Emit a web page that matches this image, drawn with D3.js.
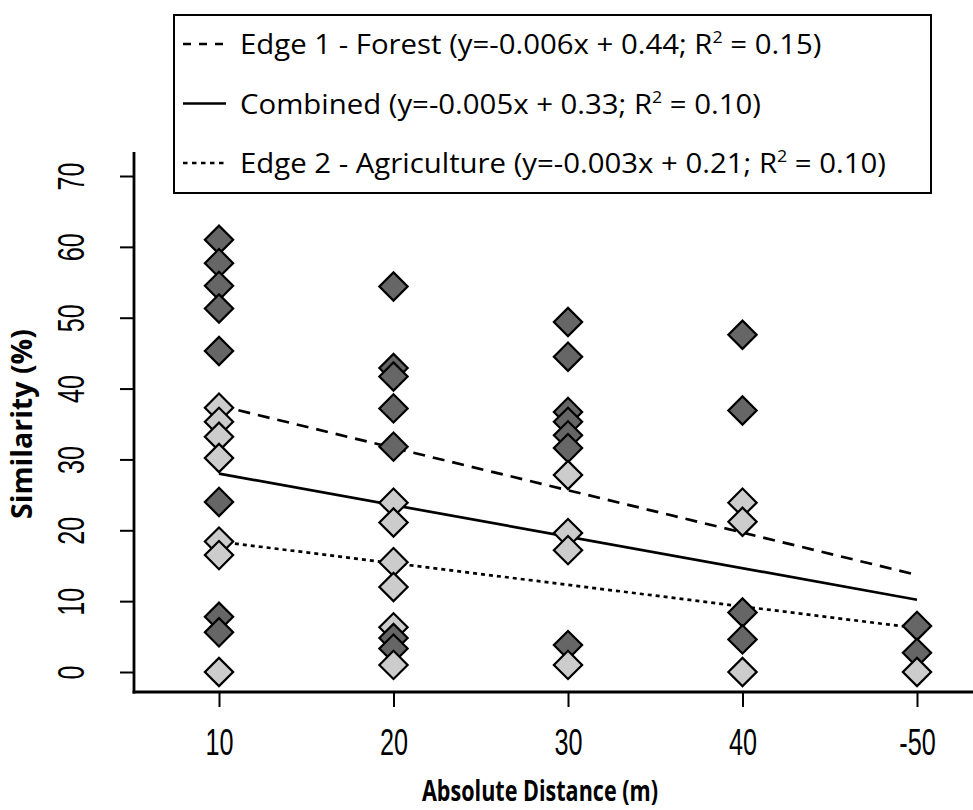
<!DOCTYPE html>
<html lang="en">
	<head>
		<meta charset="utf-8">
		<title>Similarity by distance</title>
		<style type="text/css">
		body {
			background-color: white;
			margin: 0px;
			padding: 0px;
		}
		svg {
			display: block;
		}
		.tickLabel {
			font-family: 'Liberation Sans', Arial, sans-serif;
			font-size: 36px;
			fill: black;
		}
		.axisTitle {
			font-family: 'Open Sans', sans-serif;
			font-weight: 700;
			font-size: 28px;
			fill: black;
		}
		.legendText {
			font-family: 'Open Sans', sans-serif;
			font-size: 28px;
			fill: black;
		}
		</style>
	</head>
	<body>
		<div id="chart"></div>

		<script src="https://d3js.org/d3.v7.min.js"></script>
		<script type="text/javascript">

			// distances on the x axis (last one is labelled -50 in the figure)
			const distances = [10, 20, 30, 40, 50];
			const distanceLabels = ["10", "20", "30", "40", "-50"];
			const similarityTicks = [0, 10, 20, 30, 40, 50, 60, 70];

			// Edge 1 - Forest (dark diamonds), one list per distance
			const forestValues = [
				[61.0, 57.7, 54.5, 51.3, 45.3, 24.0, 7.8, 5.6],
				[54.4, 42.9, 41.7, 37.2, 31.8, 4.8, 3.3],
				[49.4, 44.5, 36.7, 35.3, 33.4, 31.6, 3.8],
				[47.6, 36.9, 8.4, 4.6],
				[6.5, 2.7]
			];

			// Edge 2 - Agriculture (light diamonds)
			const agricultureValues = [
				[37.3, 35.3, 33.2, 30.2, 18.4, 16.5, 0],
				[23.9, 21.1, 15.5, 12.0, 6.3, 1.0],
				[27.8, 19.6, 17.2, 1.0],
				[23.9, 21.2, 0],
				[0]
			];

			// fitted lines, value at first and last distance
			const fitDistances = [10, 50];
			const forestFit = [37.6, 13.7];
			const combinedFit = [28.0, 10.2];
			const agricultureFit = [18.4, 6.2];

			const legendLabels = [
				["Edge 1 - Forest (y=-0.006x + 0.44; R", "2", " = 0.15)"],
				["Combined (y=-0.005x + 0.33; R", "2", " = 0.10)"],
				["Edge 2 - Agriculture (y=-0.003x + 0.21; R", "2", " = 0.10)"]
			];

			const width = 973,
				height = 810,
				axisLeftX = 134,
				axisBottomY = 692,
				plotTop = 152;

			const darkFill = "#666666",
				lightFill = "#cccccc";

			const svg = d3.select("#chart")
				.append("svg")
				.attr("width", width)
				.attr("height", height);

			const xScale = d3.scaleLinear()
				.domain([10, 50])
				.range([219, 917]);

			const yScale = d3.scaleLinear()
				.domain([0, 70])
				.range([672, 176]);

			// axes
			const xAxis = d3.axisBottom(xScale)
				.tickValues(distances)
				.tickSizeInner(15)
				.tickSizeOuter(0)
				.tickFormat(function(d, i){
					return distanceLabels[i];
				});

			const yAxis = d3.axisLeft(yScale)
				.tickValues(similarityTicks)
				.tickSizeInner(14)
				.tickSizeOuter(0);

			const gX = svg.append("g")
				.attr("transform", "translate(0," + axisBottomY + ")")
				.call(xAxis);

			const gY = svg.append("g")
				.attr("transform", "translate(" + axisLeftX + ",0)")
				.call(yAxis);

			gX.select(".domain").remove();
			gY.select(".domain").remove();

			gX.selectAll(".tick line")
				.attr("stroke", "black")
				.attr("stroke-width", 2);

			gY.selectAll(".tick line")
				.attr("stroke", "black")
				.attr("stroke-width", 2);

			gX.selectAll(".tick text")
				.attr("class", "tickLabel")
				.attr("y", 63)
				.attr("dy", null)
				.attr("font-size", null)
				.attr("font-family", null);

			gY.selectAll(".tick text")
				.attr("class", "tickLabel")
				.attr("x", null)
				.attr("dy", null)
				.attr("text-anchor", "middle")
				.attr("font-size", null)
				.attr("font-family", null)
				.attr("transform", "translate(-50,0) rotate(-90)");

			// narrow the tick labels like the original font
			svg.selectAll(".tickLabel").each(function(){
				const len = this.getComputedTextLength();
				d3.select(this)
					.attr("textLength", len * 0.7)
					.attr("lengthAdjust", "spacingAndGlyphs");
			});

			svg.append("line")
				.attr("x1", axisLeftX)
				.attr("x2", axisLeftX)
				.attr("y1", plotTop)
				.attr("y2", axisBottomY + 1.4)
				.attr("stroke", "black")
				.attr("stroke-width", 2.8);

			svg.append("line")
				.attr("x1", axisLeftX - 1.4)
				.attr("x2", width)
				.attr("y1", axisBottomY)
				.attr("y2", axisBottomY)
				.attr("stroke", "black")
				.attr("stroke-width", 2.8);

			// axis titles
			const xTitle = svg.append("text")
				.attr("class", "axisTitle")
				.attr("x", 540)
				.attr("y", 801)
				.attr("text-anchor", "middle")
				.text("Absolute Distance (m)");

			const yTitle = svg.append("text")
				.attr("class", "axisTitle")
				.attr("text-anchor", "middle")
				.attr("transform", "translate(32,424) rotate(-90)")
				.text("Similarity (%)");

			xTitle.attr("textLength", 236).attr("lengthAdjust", "spacingAndGlyphs");
			yTitle.attr("textLength", 190).attr("lengthAdjust", "spacingAndGlyphs");

			// regression lines
			const fitStyles = [
				{values: forestFit, dash: "12,8"},
				{values: combinedFit, dash: null},
				{values: agricultureFit, dash: "4,4"}
			];

			const line = d3.line()
				.x(function(d){ return xScale(d[0]); })
				.y(function(d){ return yScale(d[1]); });

			svg.selectAll(null)
				.data(fitStyles)
				.enter()
				.append("path")
				.attr("d", function(d){
					return line(fitDistances.map(function(x, i){ return [x, d.values[i]]; }));
				})
				.style("fill", "none")
				.style("stroke", "black")
				.style("stroke-width", 2.7)
				.style("stroke-dasharray", function(d){ return d.dash; });

			// points, drawn from high to low so lower ones sit on top
			const points = [];
			distances.forEach(function(dist, i){
				forestValues[i].forEach(function(v){
					points.push({x: dist, y: v, fill: darkFill});
				});
				agricultureValues[i].forEach(function(v){
					points.push({x: dist, y: v, fill: lightFill});
				});
			});
			points.sort(function(a, b){ return b.y - a.y; });

			const diamond = d3.symbol().type(d3.symbolSquare).size(400);

			svg.selectAll(null)
				.data(points)
				.enter()
				.append("path")
				.attr("d", diamond)
				.attr("transform", function(d){
					return "translate(" + xScale(d.x) + "," + yScale(d.y) + ") rotate(45)";
				})
				.style("fill", function(d){ return d.fill; })
				.style("stroke", "black")
				.style("stroke-width", 2.2);

			// legend
			const legend = svg.append("g");

			legend.append("rect")
				.attr("x", 174)
				.attr("y", 15)
				.attr("width", 757)
				.attr("height", 178)
				.style("fill", "white")
				.style("stroke", "black")
				.style("stroke-width", 2);

			const legendDash = ["8,8", null, "4.5,4.5"];
			const rowY = d3.scalePoint()
				.domain(d3.range(legendLabels.length))
				.range([44, 163]);

			legend.selectAll(null)
				.data(legendLabels)
				.enter()
				.append("line")
				.attr("x1", 183)
				.attr("x2", 226)
				.attr("y1", function(_, i){ return rowY(i); })
				.attr("y2", function(_, i){ return rowY(i); })
				.style("stroke", "black")
				.style("stroke-width", 2.5)
				.style("stroke-dasharray", function(_, i){ return legendDash[i]; });

			const rows = legend.selectAll(null)
				.data(legendLabels)
				.enter()
				.append("text")
				.attr("class", "legendText")
				.attr("x", 240)
				.attr("y", function(_, i){ return rowY(i) + 10; });

			rows.append("tspan").text(function(d){ return d[0]; });
			rows.append("tspan")
				.attr("dy", -11)
				.style("font-size", "17px")
				.text(function(d){ return d[1]; });
			rows.append("tspan")
				.attr("dy", 11)
				.text(function(d){ return d[2]; });

			// squeeze all rows by the same factor so "Combined" ends near x=761
			const squeeze = 521 / rows.nodes()[1].getComputedTextLength();
			rows.each(function(){
				const len = this.getComputedTextLength();
				d3.select(this)
					.attr("textLength", len * squeeze)
					.attr("lengthAdjust", "spacingAndGlyphs");
			});

		</script>
	</body>
</html>
